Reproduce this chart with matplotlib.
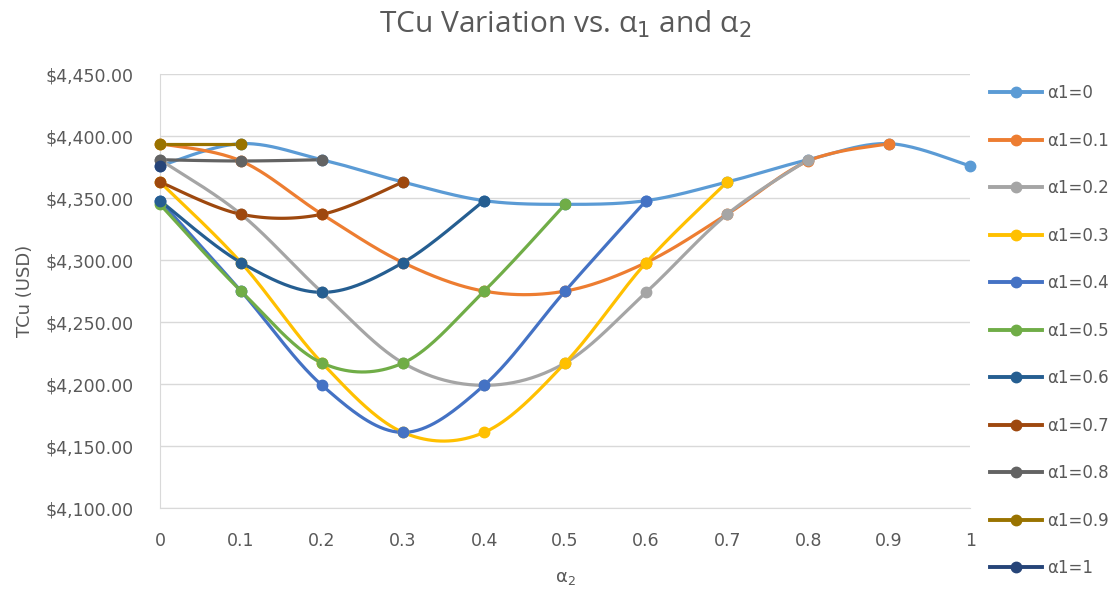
import numpy as np
import matplotlib
matplotlib.use("Agg")
import matplotlib.pyplot as plt
from matplotlib.ticker import FuncFormatter

plt.rcParams['font.family'] = ['DejaVu Sans']

alpha2 = [0, 0.1, 0.2, 0.3, 0.4, 0.5, 0.6, 0.7, 0.8, 0.9, 1.0]
labels = ['α1=0', 'α1=0.1', 'α1=0.2', 'α1=0.3', 'α1=0.4', 'α1=0.5',
          'α1=0.6', 'α1=0.7', 'α1=0.8', 'α1=0.9', 'α1=1']

# TCu for each alpha1, over alpha2 = 0 .. 1 - alpha1
tcu_a0 = [4376, 4394, 4381, 4363, 4348, 4345, 4348, 4363, 4381, 4394, 4376]
tcu_a1 = [4394, 4380, 4337, 4298, 4275, 4275, 4298, 4337, 4380, 4394]
tcu_a2 = [4381, 4337, 4274, 4217, 4199, 4217, 4274, 4337, 4381]
tcu_a3 = [4363, 4298, 4217, 4161, 4161, 4217, 4298, 4363]
tcu_a4 = [4348, 4275, 4199, 4161, 4199, 4275, 4348]
tcu_a5 = [4345, 4275, 4217, 4217, 4275, 4345]
tcu_a6 = [4348, 4298, 4274, 4298, 4348]
tcu_a7 = [4363, 4337, 4337, 4363]
tcu_a8 = [4381, 4380, 4381]
tcu_a9 = [4394, 4394]
tcu_a10 = [4376]

series = [tcu_a0, tcu_a1, tcu_a2, tcu_a3, tcu_a4, tcu_a5,
          tcu_a6, tcu_a7, tcu_a8, tcu_a9, tcu_a10]
colors = ['#5B9BD5', '#ED7D31', '#A5A5A5', '#FFC000', '#4472C4', '#70AD47',
          '#255E91', '#9E480E', '#636363', '#997300', '#264478']


def smooth(xs, ys, n=40):
    # catmull-rom through the points, drawn as cubic bezier pieces
    p = np.column_stack([xs, ys]).astype(float)
    if len(p) < 3:
        return p[:, 0], p[:, 1]
    ext = np.vstack([p[0], p, p[-1]])
    t = np.linspace(0, 1, n)[:, None]
    out = []
    for i in range(1, len(ext) - 2):
        p0, p1, p2, p3 = ext[i - 1], ext[i], ext[i + 1], ext[i + 2]
        c1 = p1 + (p2 - p0) / 6
        c2 = p2 - (p3 - p1) / 6
        seg = ((1 - t) ** 3) * p1 + 3 * ((1 - t) ** 2) * t * c1 + 3 * (1 - t) * t ** 2 * c2 + t ** 3 * p2
        out.append(seg if i == 1 else seg[1:])
    out = np.vstack(out)
    return out[:, 0], out[:, 1]


fig = plt.figure(figsize=(11.19, 5.89), dpi=100)
ax = fig.add_axes([0.143, 0.1375, 0.724, 0.7365])

grey = '#595959'
for ys, c, lab in zip(series, colors, labels):
    xs = alpha2[:len(ys)]
    sx, sy = smooth(xs, ys)
    ax.plot(sx, sy, color=c, lw=2.3, solid_capstyle='round', clip_on=False)
    ax.plot(xs, ys, 'o', color=c, ms=7.5, clip_on=False, zorder=3)
    ax.plot([], [], '-o', color=c, lw=2.8, ms=7.5, label=lab)

ax.set_xlim(0, 1)
ax.set_ylim(4100, 4450)
ax.set_xticks(alpha2)
ax.set_xticklabels(['0', '0.1', '0.2', '0.3', '0.4', '0.5', '0.6', '0.7', '0.8', '0.9', '1'])
ax.set_yticks(np.arange(4100, 4451, 50))
ax.yaxis.set_major_formatter(FuncFormatter(lambda v, pos: '${:,.2f}'.format(v)))
ax.tick_params(length=0, labelsize=12.5, labelcolor=grey)
ax.tick_params(axis='x', pad=17)
ax.tick_params(axis='y', pad=19)
ax.grid(axis='y', color='#D9D9D9', lw=1)
ax.set_axisbelow(True)
for s in ['top', 'right']:
    ax.spines[s].set_visible(False)
ax.spines['left'].set_color('#D9D9D9')
ax.spines['bottom'].set_color('#D9D9D9')

ax.set_xlabel('α$_2$', fontsize=13, color=grey, labelpad=14)
ax.set_ylabel('TCu (USD)', fontsize=13, color=grey, labelpad=8)
fig.text(0.505, 0.944, 'TCu Variation vs. α$_1$ and α$_2$', ha='center', va='baseline',
         fontsize=21.5, color=grey, family=['Open Sans', 'DejaVu Sans'])

fig.legend(loc='upper left', bbox_to_anchor=(0.885, 0.857), frameon=False,
           fontsize=12, labelcolor=grey, handlelength=3.1, handletextpad=0.3,
           labelspacing=1.77, borderpad=0, borderaxespad=0)

fig.savefig('out.png', dpi=100)
